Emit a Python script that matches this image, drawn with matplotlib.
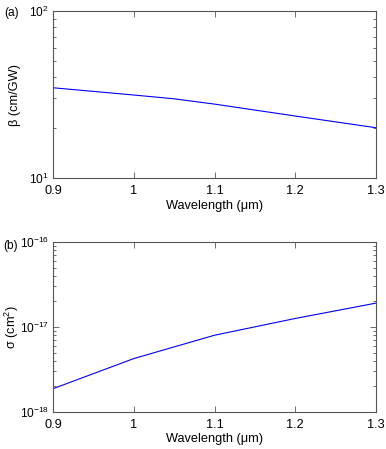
import matplotlib
matplotlib.use("Agg")
import matplotlib.pyplot as plt
import numpy as np
from matplotlib.ticker import LogLocator, NullFormatter

plt.rcParams['font.family'] = ['Liberation Sans', 'DejaVu Sans']
plt.rcParams['mathtext.fontset'] = 'custom'
plt.rcParams['mathtext.rm'] = 'Liberation Sans'
plt.rcParams['mathtext.it'] = 'Liberation Sans:italic'
plt.rcParams['mathtext.default'] = 'regular'

wavelength = [0.9, 1.0, 1.05, 1.1, 1.2, 1.3]
beta = [34.7, 31.4, 29.8, 27.7, 23.5, 20.0]

wavelength_b = [0.9, 1.0, 1.1, 1.2, 1.3]
sigma = [1.88e-18, 4.25e-18, 8.0e-18, 1.26e-17, 1.91e-17]

xticks = [0.9, 1.0, 1.1, 1.2, 1.3]
xticklabels = ["0.9", "1", "1.1", "1.2", "1.3"]

W, H = 386, 449
fig = plt.figure(figsize=(W / 100, H / 100), dpi=100)

def px_axes(l, t, r, b):
    return fig.add_axes([l / W, 1 - b / H, (r - l) / W, (b - t) / H])

ax1 = px_axes(53, 11, 376, 178)
ax2 = px_axes(53, 242, 376, 412)

fs = 8.6
fl = 9.2
for ax in (ax1, ax2):
    ax.set_yscale('log')
    ax.set_xlim(0.9, 1.3)
    ax.set_xticks(xticks)
    ax.set_xticklabels(xticklabels, fontsize=fl)
    ax.tick_params(which='both', direction='in', top=True, right=True,
                   labelsize=fs, color='#555555')
    ax.tick_params(axis='x', pad=5, labelsize=fl)
    ax.tick_params(axis='y', pad=3)
    ax.tick_params(which='major', length=4, width=0.6)
    ax.tick_params(which='minor', length=2, width=0.6)
    ax.tick_params(axis='x', which='minor', top=False, bottom=False)
    for s in ax.spines.values():
        s.set_color('#555555')
        s.set_linewidth(0.8)
    ax.yaxis.set_minor_locator(LogLocator(base=10, subs=np.arange(2, 10)))
    ax.yaxis.set_minor_formatter(NullFormatter())

ax1.plot(wavelength, beta, color='#0000ff', lw=0.8)
ax1.set_ylim(10, 100)
ax1.set_yticks([10, 100])
ax1.set_yticklabels([r'$10^{1}$', r'$10^{2}$'], fontsize=fs)
ax1.set_ylabel('\u03b2 (cm/GW)', fontsize=fl, va='center')
ax1.yaxis.set_label_coords((15 - 53) / 323, 0.5)
ax1.set_xlabel('Wavelength (\u03bcm)', fontsize=fl, va='baseline')
ax1.xaxis.set_label_coords(0.5, (178 - 209.5) / 167)

ax2.plot(wavelength_b, sigma, color='#0000ff', lw=0.8)
ax2.set_ylim(1e-18, 1e-16)
ax2.set_yticks([1e-18, 1e-17, 1e-16])
ax2.set_yticklabels([r'$10^{-18}$', r'$10^{-17}$', r'$10^{-16}$'], fontsize=fs)
ax2.set_ylabel('\u03c3 (cm$^{2}$)', fontsize=fl, va='center')
ax2.yaxis.set_label_coords((12 - 53) / 323, 0.5)
ax2.set_xlabel('Wavelength (\u03bcm)', fontsize=fl, va='baseline')
ax2.xaxis.set_label_coords(0.5, (412 - 442) / 170)

fig.text(4 / W, 1 - 13 / H, '(a)', fontsize=fs, va='center', ha='left')
fig.text(3 / W, 1 - 246 / H, '(b)', fontsize=fs, va='center', ha='left')

fig.savefig('out.png', dpi=100)
